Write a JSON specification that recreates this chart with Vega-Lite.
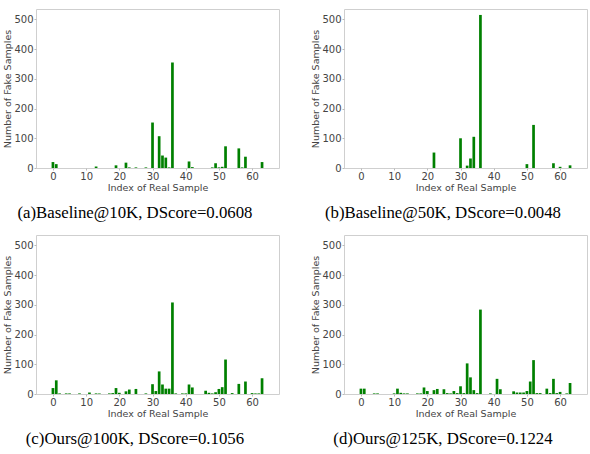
{
  "$schema": "https://vega.github.io/schema/vega-lite/v6.json",
  "padding": {"left": 2, "top": 8, "right": 0, "bottom": 0},
  "background": "white",
  "config": {
    "view": {"stroke": "#cfcfcf", "strokeWidth": 1},
    "axis": {
      "labelFont": "DejaVu Sans", "labelFontSize": 10, "labelColor": "#444444",
      "titleFont": "DejaVu Sans", "titleFontSize": 9.5, "titleColor": "#444444", "titleFontWeight": "normal",
      "domain": false, "grid": false, "tickColor": "#bbbbbb", "tickSize": 2, "labelPadding": 1, "titlePadding": 1
    },
    "title": {"font": "Liberation Serif", "fontSize": 16.8, "fontWeight": "normal", "color": "#000000", "orient": "bottom", "anchor": "middle", "frame": "bounds", "offset": 13, "dx": -6}
  },
  "datasets": {
    "a": [
      {"idx": 0, "count": 20}, {"idx": 1, "count": 13}, {"idx": 13, "count": 5}, {"idx": 19, "count": 9},
      {"idx": 22, "count": 18}, {"idx": 23, "count": 2}, {"idx": 25, "count": 2}, {"idx": 28, "count": 2},
      {"idx": 30, "count": 153}, {"idx": 32, "count": 107}, {"idx": 33, "count": 42}, {"idx": 34, "count": 35},
      {"idx": 35, "count": 2}, {"idx": 36, "count": 355}, {"idx": 41, "count": 22}, {"idx": 42, "count": 3},
      {"idx": 48, "count": 2}, {"idx": 49, "count": 16}, {"idx": 50, "count": 2}, {"idx": 51, "count": 4},
      {"idx": 52, "count": 73}, {"idx": 56, "count": 66}, {"idx": 57, "count": 2}, {"idx": 58, "count": 38},
      {"idx": 63, "count": 20}
    ],
    "b": [
      {"idx": 22, "count": 52}, {"idx": 30, "count": 100}, {"idx": 32, "count": 8}, {"idx": 33, "count": 32},
      {"idx": 34, "count": 105}, {"idx": 36, "count": 515}, {"idx": 50, "count": 13}, {"idx": 52, "count": 145},
      {"idx": 58, "count": 16}, {"idx": 60, "count": 4}, {"idx": 63, "count": 9}
    ],
    "c": [
      {"idx": 0, "count": 20}, {"idx": 1, "count": 46}, {"idx": 2, "count": 2}, {"idx": 4, "count": 2},
      {"idx": 5, "count": 2}, {"idx": 8, "count": 2}, {"idx": 11, "count": 5}, {"idx": 13, "count": 2},
      {"idx": 14, "count": 2}, {"idx": 17, "count": 2}, {"idx": 18, "count": 3}, {"idx": 19, "count": 20},
      {"idx": 20, "count": 4}, {"idx": 22, "count": 9}, {"idx": 23, "count": 15}, {"idx": 25, "count": 17},
      {"idx": 28, "count": 2}, {"idx": 30, "count": 33}, {"idx": 31, "count": 10}, {"idx": 32, "count": 76},
      {"idx": 33, "count": 32}, {"idx": 34, "count": 18}, {"idx": 35, "count": 18}, {"idx": 36, "count": 308},
      {"idx": 37, "count": 2}, {"idx": 39, "count": 2}, {"idx": 40, "count": 2}, {"idx": 41, "count": 32},
      {"idx": 42, "count": 22}, {"idx": 46, "count": 11}, {"idx": 47, "count": 4}, {"idx": 48, "count": 2},
      {"idx": 49, "count": 6}, {"idx": 50, "count": 17}, {"idx": 51, "count": 23}, {"idx": 52, "count": 116},
      {"idx": 54, "count": 3}, {"idx": 56, "count": 34}, {"idx": 58, "count": 42}, {"idx": 60, "count": 3},
      {"idx": 61, "count": 2}, {"idx": 62, "count": 2}, {"idx": 63, "count": 53}
    ],
    "d": [
      {"idx": 0, "count": 18}, {"idx": 1, "count": 18}, {"idx": 4, "count": 2}, {"idx": 5, "count": 2},
      {"idx": 10, "count": 2}, {"idx": 11, "count": 18}, {"idx": 12, "count": 4}, {"idx": 13, "count": 2},
      {"idx": 14, "count": 2}, {"idx": 17, "count": 2}, {"idx": 18, "count": 2}, {"idx": 19, "count": 22},
      {"idx": 20, "count": 10}, {"idx": 22, "count": 13}, {"idx": 23, "count": 17}, {"idx": 25, "count": 16},
      {"idx": 26, "count": 3}, {"idx": 27, "count": 2}, {"idx": 28, "count": 10}, {"idx": 29, "count": 3},
      {"idx": 30, "count": 26}, {"idx": 31, "count": 3}, {"idx": 32, "count": 103}, {"idx": 33, "count": 56},
      {"idx": 34, "count": 13}, {"idx": 35, "count": 3}, {"idx": 36, "count": 284}, {"idx": 39, "count": 2},
      {"idx": 41, "count": 51}, {"idx": 42, "count": 16}, {"idx": 46, "count": 9}, {"idx": 47, "count": 5},
      {"idx": 48, "count": 5}, {"idx": 49, "count": 5}, {"idx": 50, "count": 10}, {"idx": 51, "count": 42},
      {"idx": 52, "count": 114}, {"idx": 53, "count": 3}, {"idx": 54, "count": 3}, {"idx": 56, "count": 18},
      {"idx": 57, "count": 3}, {"idx": 58, "count": 51}, {"idx": 59, "count": 3}, {"idx": 60, "count": 7},
      {"idx": 62, "count": 2}, {"idx": 63, "count": 37}
    ]
  },
  "spacing": 12,
  "vconcat": [
    {
      "spacing": 30,
      "hconcat": [
        {
          "width": 243, "height": 159,
          "data": {"name": "a"},
          "title": {"text": "(a)Baseline@10K, DScore=0.0608"},
          "mark": {"type": "bar", "size": 2.7, "color": "#008000"},
          "encoding": {
            "x": {"field": "idx", "type": "quantitative", "scale": {"domain": [-3.6, 66.6], "nice": false, "zero": false}, "axis": {"values": [0, 10, 20, 30, 40, 50, 60], "title": "Index of Real Sample"}},
            "y": {"field": "count", "type": "quantitative", "scale": {"domain": [0, 535], "nice": false}, "axis": {"values": [0, 100, 200, 300, 400, 500], "title": "Number of Fake Samples"}}
          }
        },
        {
          "width": 243, "height": 159,
          "data": {"name": "b"},
          "title": {"text": "(b)Baseline@50K, DScore=0.0048"},
          "mark": {"type": "bar", "size": 2.7, "color": "#008000"},
          "encoding": {
            "x": {"field": "idx", "type": "quantitative", "scale": {"domain": [-3.6, 66.6], "nice": false, "zero": false}, "axis": {"values": [0, 10, 20, 30, 40, 50, 60], "title": "Index of Real Sample"}},
            "y": {"field": "count", "type": "quantitative", "scale": {"domain": [0, 535], "nice": false}, "axis": {"values": [0, 100, 200, 300, 400, 500], "title": "Number of Fake Samples"}}
          }
        }
      ]
    },
    {
      "spacing": 30,
      "hconcat": [
        {
          "width": 243, "height": 159,
          "data": {"name": "c"},
          "title": {"text": "(c)Ours@100K, DScore=0.1056"},
          "mark": {"type": "bar", "size": 2.7, "color": "#008000"},
          "encoding": {
            "x": {"field": "idx", "type": "quantitative", "scale": {"domain": [-3.6, 66.6], "nice": false, "zero": false}, "axis": {"values": [0, 10, 20, 30, 40, 50, 60], "title": "Index of Real Sample"}},
            "y": {"field": "count", "type": "quantitative", "scale": {"domain": [0, 535], "nice": false}, "axis": {"values": [0, 100, 200, 300, 400, 500], "title": "Number of Fake Samples"}}
          }
        },
        {
          "width": 243, "height": 159,
          "data": {"name": "d"},
          "title": {"text": "(d)Ours@125K, DScore=0.1224"},
          "mark": {"type": "bar", "size": 2.7, "color": "#008000"},
          "encoding": {
            "x": {"field": "idx", "type": "quantitative", "scale": {"domain": [-3.6, 66.6], "nice": false, "zero": false}, "axis": {"values": [0, 10, 20, 30, 40, 50, 60], "title": "Index of Real Sample"}},
            "y": {"field": "count", "type": "quantitative", "scale": {"domain": [0, 535], "nice": false}, "axis": {"values": [0, 100, 200, 300, 400, 500], "title": "Number of Fake Samples"}}
          }
        }
      ]
    }
  ]
}
